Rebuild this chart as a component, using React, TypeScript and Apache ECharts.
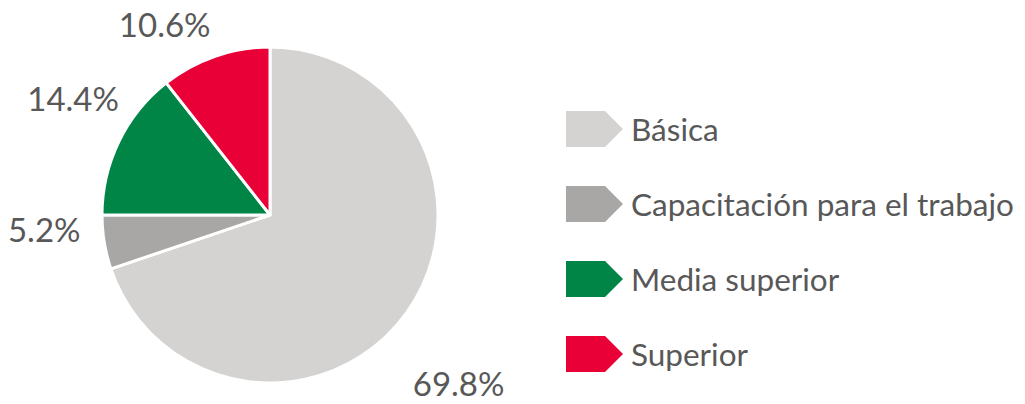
import React, { useEffect, useRef } from "react";
import * as echarts from "echarts";

const categories = ["Básica", "Capacitación para el trabajo", "Media superior", "Superior"];
const values = [69.8, 5.2, 14.4, 10.6];
const colors = ["#d4d3d2", "#a8a7a6", "#008547", "#e80037"];

const ICON = "path://M0,0 L39,0 L57,18 L39,36 L0,36 Z";

export default function App() {
  const ref = useRef<HTMLDivElement>(null);
  useEffect(() => {
    document.body.style.margin = "0";
    const chart = echarts.init(ref.current!, undefined, { renderer: "svg" });
    const font = "Lato, sans-serif";
    const labelShift = [
      [-15, 58],
      [1, -17],
      [23, -35],
      [7, -13],
    ];
    chart.setOption({
      animation: false,
      backgroundColor: "#ffffff",
      legend: {
        orient: "vertical",
        left: 561,
        top: 106,
        itemWidth: 57,
        itemHeight: 36,
        itemGap: 39,
        icon: ICON,
        data: categories,
        itemStyle: { borderWidth: 0 },
        textStyle: {
          fontFamily: font,
          fontSize: 31.5,
          color: "#585858",
          padding: [0, 0, 0, 3],
        },
      },
      series: [
        {
          type: "pie",
          center: [270, 215],
          radius: 168,
          startAngle: 90,
          clockwise: true,
          silent: true,
          itemStyle: { borderColor: "#ffffff", borderWidth: 3 },
          label: {
            show: true,
            position: "outside",
            overflow: "none",
            formatter: (p: any) => `${p.value.toFixed(1)}%`,
            fontFamily: font,
            fontSize: 33,
            color: "#585858",
          },
          labelLine: { show: false, length: 20, length2: 0 },
          labelLayout: (p: any) => ({ dx: labelShift[p.dataIndex][0], dy: labelShift[p.dataIndex][1] }),
          data: categories.map((name, i) => ({
            name,
            value: values[i],
            itemStyle: { color: colors[i] },
          })),
        },
      ],
    });
    return () => chart.dispose();
  }, []);
  return <div ref={ref} style={{ width: 1025, height: 404 }} />;
}
